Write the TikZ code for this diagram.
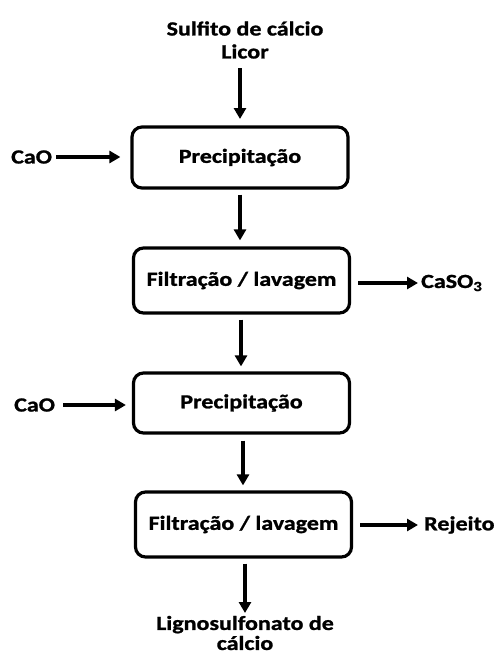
\documentclass[tikz,border=0pt]{standalone}
\usepackage{fontspec}
\setmainfont{Carlito}[FakeStretch=1.2, FakeBold=1.2]
\usetikzlibrary{arrows.meta}
\begin{document}
\begin{tikzpicture}[x=1pt,y=-1pt,
  every node/.style={font=\bfseries\fontsize{20}{23}\selectfont, inner sep=0pt},
  process/.style={draw, line width=3.2pt, rounded corners=10pt, minimum width=216pt, minimum height=62pt},
  flow/.style={line width=3.2pt, -{Triangle[length=11pt,width=12pt]}}]
\useasboundingbox (0,0) rectangle (497,657);

% process units
\node[process, minimum height=61pt] (p1) at (240,157.5) {Precipitação};
\node[process, minimum height=65pt] (f1) at (241.5,280.5) {Filtração / lavagem};
\node[process, minimum height=60pt] (p2) at (241.5,403) {Precipitação};
\node[process, minimum height=65pt] (f2) at (243.5,524.5) {Filtração / lavagem};

% feeds and products
\node[align=center] (feed) at (245,40) {Sulfito de cálcio\\Licor};
\node[anchor=west] (cao1) at (11,157) {CaO};
\node[anchor=west] (cao2) at (14,405) {CaO};
\node[anchor=west] (caso) at (421,283) {CaSO\textsubscript{3}};
\node[anchor=west] (rej) at (424,525) {Rejeito};
\node[align=center] (lig) at (245,633) {Lignosulfonato de\\[-3pt]cálcio};

% flows
\draw[flow] (240,68) -- (240,119);
\draw[flow, shorten <=5pt, shorten >=6pt] (p1.south -| 240,0) -- (f1.north -| 240,0);
\draw[flow, shorten <=5pt, shorten >=5pt] (f1.south -| 241,0) -- (p2.north -| 241,0);
\draw[flow, shorten <=6pt, shorten >=5pt] (p2.south -| 243,0) -- (f2.north -| 243,0);
\draw[flow, shorten <=5pt] (f2.south -| 245,0) -- (245,613);
\draw[flow, shorten <=4pt, shorten >=10pt] (cao1.east) -- (p1.west |- cao1.east);
\draw[flow, shorten <=8pt, shorten >=6pt] (cao2.east) -- (p2.west |- cao2.east);
\draw[flow, shorten <=7pt, shorten >=3pt] (f1.east |- caso.west) -- (caso.west);
\draw[flow, shorten <=7pt, shorten >=6pt] (f2.east |- rej.west) -- (rej.west);
\end{tikzpicture}
\end{document}
